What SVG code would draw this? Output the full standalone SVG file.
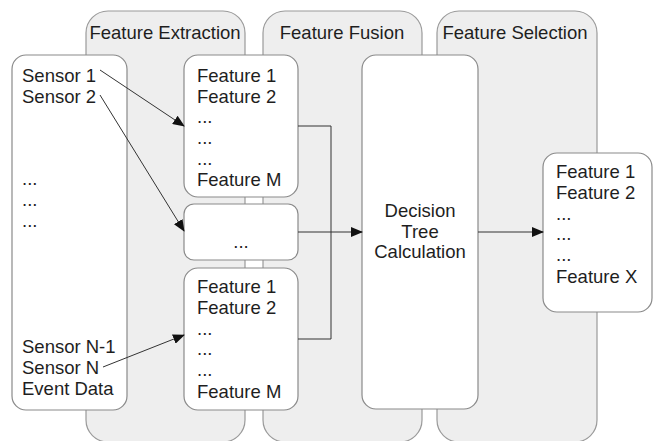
<svg xmlns="http://www.w3.org/2000/svg" width="654" height="441" viewBox="0 0 654 441">
<defs>
<style>
.lane{fill:#eeeeee;stroke:#9a9a9a;stroke-width:1.2}
.box{fill:#ffffff;stroke:#8a8a8a;stroke-width:1.2}
text{font-family:"Liberation Sans",Arial,sans-serif;font-size:18.5px;fill:#1e1e1e}
.c{text-anchor:middle}
.edge{fill:none;stroke:#333333;stroke-width:1}
</style>
<marker id="arr" markerWidth="12" markerHeight="10" refX="11" refY="5" orient="auto" markerUnits="userSpaceOnUse">
<path d="M0,0 L12,5 L0,10 Z" fill="#111111"/>
</marker>
</defs>
<rect width="654" height="441" fill="#ffffff"/>
<g id="lane-extraction">
<rect class="lane" x="86" y="11" width="159" height="431" rx="22"/>
<text class="c" x="165" y="39">Feature Extraction</text>
</g>
<g id="lane-fusion">
<rect class="lane" x="263" y="11" width="159" height="431" rx="22"/>
<text class="c" x="342" y="39">Feature Fusion</text>
</g>
<g id="lane-selection">
<rect class="lane" x="437" y="11" width="160" height="431" rx="22"/>
<text class="c" x="515" y="39">Feature Selection</text>
</g>
<g id="sensors">
<rect class="box" x="12" y="55" width="115" height="355" rx="14"/>
<text x="22" y="82">Sensor 1</text>
<text x="22" y="103">Sensor 2</text>
<text x="22" y="185">...</text>
<text x="22" y="206">...</text>
<text x="22" y="227">...</text>
<text x="22" y="353">Sensor N-1</text>
<text x="22" y="374">Sensor N</text>
<text x="22" y="395">Event Data</text>
</g>
<g id="features-top">
<rect class="box" x="184" y="55" width="114" height="142" rx="14"/>
<text x="197" y="82">Feature 1</text>
<text x="197" y="103">Feature 2</text>
<text x="197" y="123">...</text>
<text x="197" y="144">...</text>
<text x="197" y="165">...</text>
<text x="197" y="186">Feature M</text>
</g>
<g id="features-mid">
<rect class="box" x="184" y="204" width="114" height="56" rx="10"/>
<text class="c" x="241" y="248">...</text>
</g>
<g id="features-bottom">
<rect class="box" x="184" y="268" width="114" height="142" rx="14"/>
<text x="197" y="293">Feature 1</text>
<text x="197" y="314">Feature 2</text>
<text x="197" y="335">...</text>
<text x="197" y="355">...</text>
<text x="197" y="376">...</text>
<text x="197" y="398">Feature M</text>
</g>
<g id="decision">
<rect class="box" x="362" y="55" width="116" height="354" rx="14"/>
<text class="c" x="420" y="217">Decision</text>
<text class="c" x="420" y="238">Tree</text>
<text class="c" x="420" y="258">Calculation</text>
</g>
<g id="output">
<rect class="box" x="543" y="153" width="109" height="159" rx="14"/>
<text x="556" y="178">Feature 1</text>
<text x="556" y="199">Feature 2</text>
<text x="556" y="220">...</text>
<text x="556" y="240">...</text>
<text x="556" y="261">...</text>
<text x="556" y="283">Feature X</text>
</g>
<g id="connectors">
<path class="edge" d="M100,70 L184,126" marker-end="url(#arr)"/>
<path class="edge" d="M100,95 L184,231" marker-end="url(#arr)"/>
<path class="edge" d="M103,367 L184,335" marker-end="url(#arr)"/>
<path class="edge" d="M298,126 L331,126 L331,339 L298,339"/>
<path class="edge" d="M298,232 L362,232" marker-end="url(#arr)"/>
<path class="edge" d="M478,232 L543,232" marker-end="url(#arr)"/>
</g>
</svg>
